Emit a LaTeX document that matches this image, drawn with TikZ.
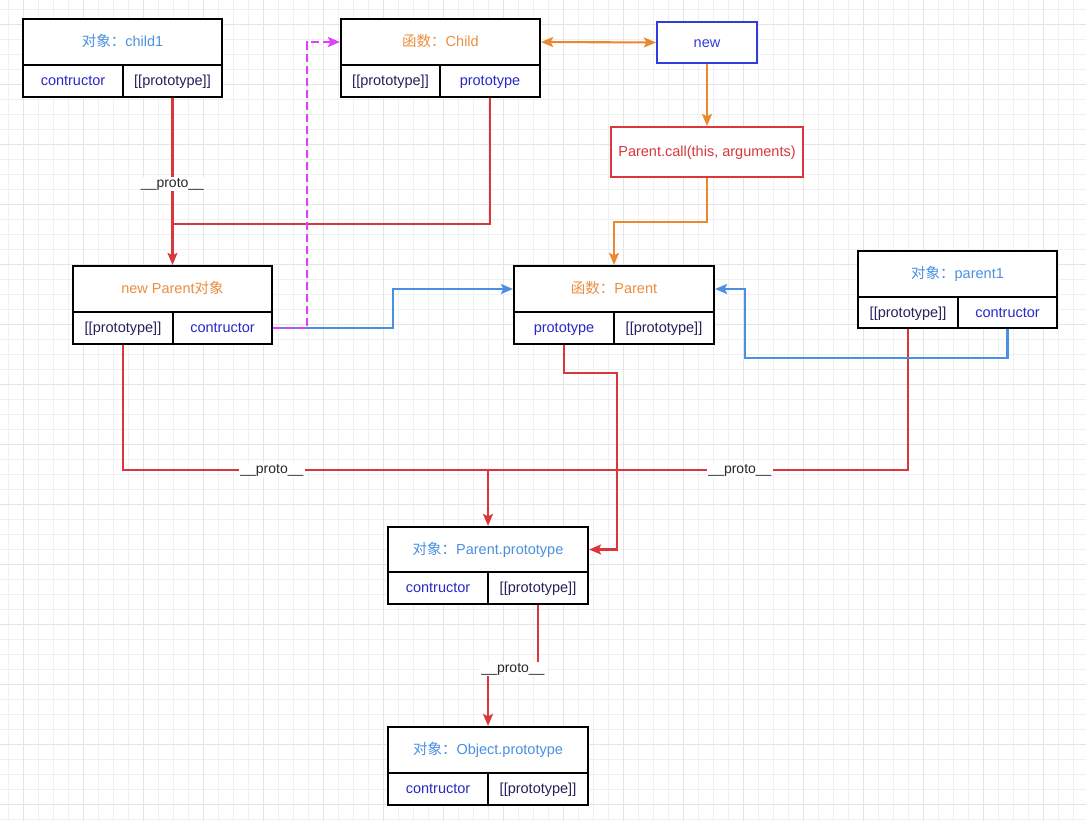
\documentclass[tikz,border=0pt]{standalone}
\usepackage{fontspec}
\setmainfont{Liberation Sans}
\newfontfamily\cjk{Noto Sans CJK SC}
\usetikzlibrary{arrows.meta}
\definecolor{gridminor}{RGB}{240,240,240}
\definecolor{gridmajor}{RGB}{228,228,228}
\definecolor{linered}{RGB}{217,55,60}
\definecolor{lineorange}{RGB}{232,137,48}
\definecolor{lineblue}{RGB}{74,144,226}
\definecolor{linemag}{RGB}{224,64,251}
\definecolor{newblue}{RGB}{50,60,220}
\definecolor{hdrblue}{RGB}{74,144,226}
\definecolor{hdrorange}{RGB}{234,142,64}
\definecolor{celltxt}{RGB}{40,40,200}
\definecolor{prototxt}{RGB}{45,30,90}
\definecolor{labtxt}{RGB}{40,40,40}
\begin{document}
\begin{tikzpicture}[x=1pt,y=-1pt,
  hdr/.style={draw=black, line width=2.2pt, fill=white, inner sep=0pt, minimum height=46, text height=11.5pt, text depth=2pt, font=\fontsize{14.5}{17}\selectfont},
  cell/.style={draw=black, line width=2.2pt, fill=white, inner sep=0pt, minimum height=32, text height=11.5pt, text depth=2pt, font=\fontsize{14.5}{17}\selectfont},
  conn/.style={line width=2.1pt, text=labtxt},
  tip/.style={-{Stealth[length=12pt,width=10pt,inset=2.5pt]}},
  plab/.style={fill=white, inner sep=1.5pt, text=labtxt, font=\fontsize{14}{16}\selectfont}]
\useasboundingbox (0,0) rectangle (1086,821);
\fill[white] (0,0) rectangle (1086,821);
% grid
\foreach \x in {8.3,23.3,...,1086} \draw[gridminor, line width=1pt] (\x,0) -- (\x,821);
\foreach \y in {9.3,24.3,...,821} \draw[gridminor, line width=1pt] (0,\y) -- (1086,\y);
\foreach \x in {23.3,83.3,...,1086} \draw[gridmajor, line width=1pt] (\x,0) -- (\x,821);
\foreach \y in {24.3,84.3,...,821} \draw[gridmajor, line width=1pt] (0,\y) -- (1086,\y);

% child1
\node[hdr, minimum width=199, text=hdrblue] (c1H) at (122.5,42) {{\cjk 对象：}child1};
\node[cell, minimum width=100, text=celltxt] (c1L) at (73,81) {contructor};
\node[cell, minimum width=99, text=prototxt] (c1R) at (172.5,81) {[[prototype]]};
% Child
\node[hdr, minimum width=199, text=hdrorange] (chH) at (440.5,42) {{\cjk 函数：}Child};
\node[cell, minimum width=99, text=prototxt] (chL) at (390.5,81) {[[prototype]]};
\node[cell, minimum width=100, text=celltxt] (chR) at (490,81) {prototype};
% new
\node[draw=newblue, line width=2.2pt, fill=white, minimum width=100, minimum height=41, text height=11.5pt, text depth=2pt, text=newblue, font=\fontsize{14.5}{17}\selectfont] (nw) at (707,42.5) {new};
% Parent.call
\node[draw=linered, line width=2.2pt, fill=white, minimum width=192, minimum height=50, text height=11.5pt, text depth=2pt, text=linered, font=\fontsize{14.5}{17}\selectfont] (call) at (707,152) {Parent.call(this, arguments)};
% new Parent
\node[hdr, minimum width=199, text=hdrorange] (npH) at (172.5,289) {new Parent{\cjk 对象}};
\node[cell, minimum width=100, text=prototxt] (npL) at (123,328) {[[prototype]]};
\node[cell, minimum width=99, text=celltxt] (npR) at (222.5,328) {contructor};
% Parent
\node[hdr, minimum width=200, text=hdrorange] (pH) at (614,289) {{\cjk 函数：}Parent};
\node[cell, minimum width=100, text=celltxt] (pL) at (564,328) {prototype};
\node[cell, minimum width=100, text=prototxt] (pR) at (664,328) {[[prototype]]};
% parent1
\node[hdr, minimum width=199, text=hdrblue] (p1H) at (957.5,274) {{\cjk 对象：}parent1};
\node[cell, minimum width=100, minimum height=31, text=prototxt] (p1L) at (908,312.5) {[[prototype]]};
\node[cell, minimum width=99, minimum height=31, text=celltxt] (p1R) at (1007.5,312.5) {contructor};
% Parent.prototype
\node[hdr, minimum width=200, minimum height=45, text=hdrblue] (ppH) at (488,549.5) {{\cjk 对象：}Parent.prototype};
\node[cell, minimum width=100, text=celltxt] (ppL) at (438,588) {contructor};
\node[cell, minimum width=100, text=prototxt] (ppR) at (538,588) {[[prototype]]};
% Object.prototype
\node[hdr, minimum width=200, text=hdrblue] (opH) at (488,750) {{\cjk 对象：}Object.prototype};
\node[cell, minimum width=100, text=celltxt] (opL) at (438,789) {contructor};
\node[cell, minimum width=100, text=prototxt] (opR) at (538,789) {[[prototype]]};

% helper coordinates
\coordinate (j1) at (172.5,224);
\coordinate (m1) at (307,328);
\coordinate (b1) at (393,328);
\coordinate (b2) at (745,358);
\coordinate (o1) at (707,222);
\coordinate (r1) at (123,470);
\coordinate (j2) at (488,470);
\coordinate (r2) at (617,373);
\coordinate (r3) at (513,669);

% orange
\draw[conn, lineorange, {Stealth[length=12pt,width=10pt,inset=2.5pt]}-{Stealth[length=12pt,width=10pt,inset=2.5pt]}] (chH.east) -- (nw.west);
\draw[conn, lineorange, tip] (nw.south) -- (call.north);
\draw[conn, lineorange, tip] (call.south) -- (o1) -| (pH.north);
% red
\draw[conn, linered] (chR.south) |- (j1);
\draw[conn, linered, tip] (c1R.south) -- node[plab, pos=0.515] {\_\_proto\_\_} (npH.north);
\draw[conn, linered, tip] (npL.south) -- (r1) -| node[plab, pos=0.204] {\_\_proto\_\_} (ppH.north);
\draw[conn, linered] (p1L.south) |- node[plab, pos=0.7] {\_\_proto\_\_} (j2);
\draw[conn, linered, tip] (pL.south) |- (r2) |- (ppH.east);
\draw[conn, linered, tip] (ppR.south) |- (r3) -| (opH.north);
\node[plab] (lab4) at (r3) {\_\_proto\_\_};
% blue
\draw[conn, lineblue, tip] (npR.east) -- (b1) |- (pH.west);
\draw[conn, lineblue, tip] (p1R.south) |- (b2) |- (pH.east);
% magenta dashed
\draw[conn, linemag, dash pattern=on 8pt off 4pt, tip] (npR.east) -- (m1) |- (chH.west);
\end{tikzpicture}
\end{document}
